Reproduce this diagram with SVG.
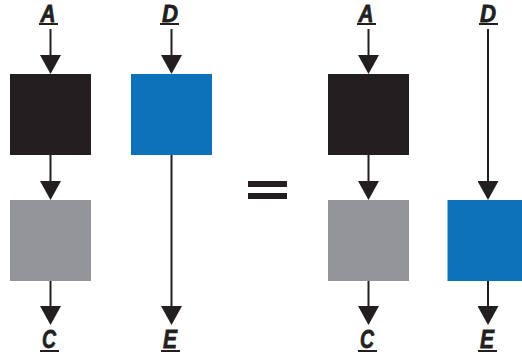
<svg xmlns="http://www.w3.org/2000/svg" width="522" height="360" viewBox="0 0 522 360">
  <style>
    .lbl { font-family: "Liberation Sans", Arial, sans-serif; font-weight: bold; font-style: italic; font-size: 24px; fill: #231f20; stroke: #231f20; stroke-width: 0.8; text-anchor: middle; }
    .lbl.low { font-size: 26px; }
    .ul { fill: #231f20; }
    .wire { stroke: #231f20; stroke-width: 2; fill: none; }
    .black { fill: #231f20; }
    .gray { fill: #939598; }
    .blue { fill: #0e72bb; }
  </style>
  <defs>
    <marker id="arrow" markerUnits="userSpaceOnUse" markerWidth="19" markerHeight="21" refX="9" refY="10.5" orient="auto" viewBox="0 0 19 21">
      <path d="M0,0 L19,10.5 L0,21 Z" fill="#231f20"/>
    </marker>
  </defs>
  <rect width="522" height="360" fill="#ffffff"/>

  <!-- connectors (lines stop 10px short of the tip; marker supplies the head) -->
  <g id="connectors">
    <path class="wire" d="M50.5,29 V64" marker-end="url(#arrow)"/>
    <path class="wire" d="M50.5,155 V190" marker-end="url(#arrow)"/>
    <path class="wire" d="M50.5,281 V315" marker-end="url(#arrow)"/>
    <path class="wire" d="M171.5,29 V64" marker-end="url(#arrow)"/>
    <path class="wire" d="M171.5,155 V315" marker-end="url(#arrow)"/>
    <path class="wire" d="M368.5,29 V64" marker-end="url(#arrow)"/>
    <path class="wire" d="M368.5,155 V190" marker-end="url(#arrow)"/>
    <path class="wire" d="M368.5,281 V315" marker-end="url(#arrow)"/>
    <path class="wire" d="M488,29 V190" marker-end="url(#arrow)"/>
    <path class="wire" d="M488,281 V315" marker-end="url(#arrow)"/>
  </g>

  <!-- left-hand side -->
  <g id="left-A">
    <text class="lbl" x="48" y="22" textLength="15" lengthAdjust="spacingAndGlyphs">A</text>
    <rect class="ul" x="39" y="23" width="19" height="2"/>
  </g>
  <g id="left-D">
    <text class="lbl" x="170" y="22" textLength="16" lengthAdjust="spacingAndGlyphs">D</text>
    <rect class="ul" x="160" y="23" width="19" height="2"/>
  </g>
  <g id="left-black"><rect class="black" x="10" y="74" width="81" height="81"/></g>
  <g id="left-blue"><rect class="blue" x="131" y="74" width="81" height="81"/></g>
  <g id="left-gray"><rect class="gray" x="10" y="200" width="81" height="81"/></g>
  <g id="left-C">
    <text class="lbl low" x="49" y="348" textLength="14" lengthAdjust="spacingAndGlyphs">C</text>
    <rect class="ul" x="40" y="350" width="19" height="2"/>
  </g>
  <g id="left-E">
    <text class="lbl low" x="170" y="348" textLength="14" lengthAdjust="spacingAndGlyphs">E</text>
    <rect class="ul" x="161" y="350" width="19" height="2"/>
  </g>

  <!-- equals sign -->
  <g id="equals">
    <rect class="black" x="248" y="181" width="39" height="6"/>
    <rect class="black" x="248" y="193" width="39" height="6"/>
  </g>

  <!-- right-hand side -->
  <g id="right-A">
    <text class="lbl" x="366" y="22" textLength="15" lengthAdjust="spacingAndGlyphs">A</text>
    <rect class="ul" x="357" y="23" width="19" height="2"/>
  </g>
  <g id="right-D">
    <text class="lbl" x="488" y="22" textLength="16" lengthAdjust="spacingAndGlyphs">D</text>
    <rect class="ul" x="479" y="23" width="19" height="2"/>
  </g>
  <g id="right-black"><rect class="black" x="328" y="74" width="81" height="81"/></g>
  <g id="right-gray"><rect class="gray" x="328" y="200" width="81" height="81"/></g>
  <g id="right-blue"><rect class="blue" x="447.5" y="200" width="81" height="81"/></g>
  <g id="right-C">
    <text class="lbl low" x="367" y="348" textLength="14" lengthAdjust="spacingAndGlyphs">C</text>
    <rect class="ul" x="358" y="350" width="19" height="2"/>
  </g>
  <g id="right-E">
    <text class="lbl low" x="487" y="348" textLength="14" lengthAdjust="spacingAndGlyphs">E</text>
    <rect class="ul" x="478" y="350" width="19" height="2"/>
  </g>
</svg>
